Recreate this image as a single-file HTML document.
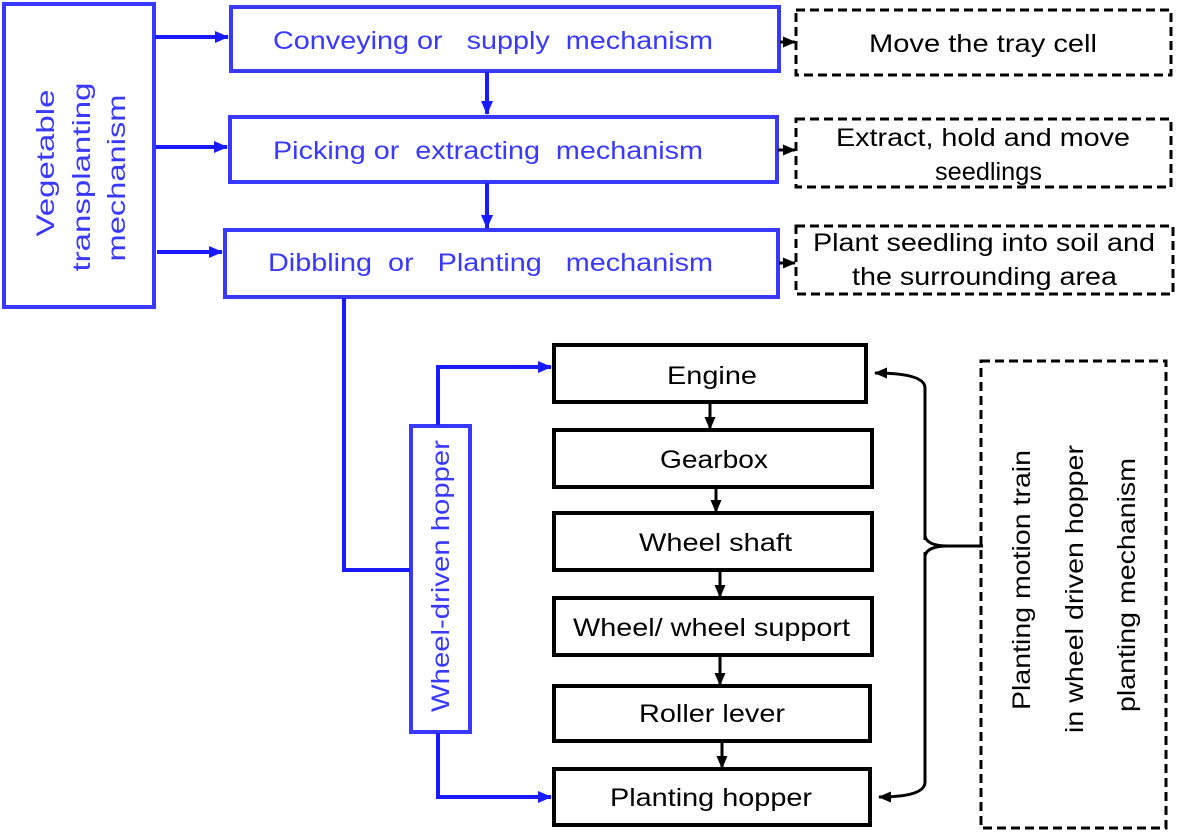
<!DOCTYPE html>
<html><head><meta charset="utf-8"><style>
body{margin:0;background:#fff;}
svg text{font-family:"Liberation Sans",Arial,sans-serif;}
</style></head><body>
<svg width="1177" height="833" viewBox="0 0 1177 833" xmlns="http://www.w3.org/2000/svg">
<defs>
<marker id="ab" markerWidth="14" markerHeight="14" refX="13" refY="7" orient="auto" markerUnits="userSpaceOnUse"><path d="M0,1 L14,7 L0,13 Z" fill="#1a1aff"/></marker>
<marker id="ak" markerWidth="13" markerHeight="13" refX="12" refY="6.5" orient="auto" markerUnits="userSpaceOnUse"><path d="M0,1 L13,6.5 L0,12 Z" fill="#000"/></marker>
</defs>
<g fill="none" stroke="#3838ff" stroke-width="4">
<rect x="4" y="4" width="150" height="303"/>
<rect x="231" y="7" width="548" height="64"/>
<rect x="230" y="117" width="547" height="65"/>
<rect x="225" y="230" width="553" height="67"/>
<rect x="411" y="426" width="59" height="306"/>
</g>
<g stroke="#1a1aff" stroke-width="4" fill="none">
<line x1="155" y1="37" x2="228" y2="37" marker-end="url(#ab)"/>
<line x1="156" y1="147" x2="227" y2="147" marker-end="url(#ab)"/>
<line x1="157" y1="252" x2="222" y2="252" marker-end="url(#ab)"/>
<line x1="487" y1="72" x2="487" y2="114" marker-end="url(#ab)"/>
<line x1="487" y1="183" x2="487" y2="228" marker-end="url(#ab)"/>
<polyline points="344,298 344,570 410,570"/>
<polyline points="438,425 438,367 551,367" marker-end="url(#ab)"/>
<polyline points="438,733 438,797 551,797" marker-end="url(#ab)"/>
</g>
<g fill="#3838ff" font-size="25" lengthAdjust="spacingAndGlyphs">
<text x="273" y="49" textLength="440" lengthAdjust="spacingAndGlyphs" xml:space="preserve">Conveying or   supply  mechanism</text>
<text x="273" y="159" textLength="430" lengthAdjust="spacingAndGlyphs" xml:space="preserve">Picking or  extracting  mechanism</text>
<text x="268" y="271" textLength="445" lengthAdjust="spacingAndGlyphs" xml:space="preserve">Dibbling  or   Planting   mechanism</text>
<g transform="rotate(-90)" text-anchor="middle">
<text x="-163" y="54" textLength="147" lengthAdjust="spacingAndGlyphs">Vegetable</text>
<text x="-177" y="90" textLength="189" lengthAdjust="spacingAndGlyphs">transplanting</text>
<text x="-178" y="125" textLength="167" lengthAdjust="spacingAndGlyphs">mechanism</text>
<text x="-576" y="449" textLength="272" lengthAdjust="spacingAndGlyphs">Wheel-driven hopper</text>
</g>
</g>
<g fill="none" stroke="#000" stroke-width="3" stroke-dasharray="9,5">
<rect x="796" y="10" width="375" height="65"/>
<rect x="796" y="119" width="375" height="68"/>
<rect x="796" y="226" width="377" height="68"/>
<rect x="981" y="361" width="185" height="467"/>
</g>
<g stroke="#000" stroke-width="3" stroke-dasharray="7,4">
<line x1="780" y1="42" x2="784" y2="42"/><line x1="778" y1="150" x2="784" y2="150"/><line x1="779" y1="263" x2="784" y2="263"/>
</g>
<g stroke="#000" stroke-width="3">
<line x1="784" y1="42" x2="795" y2="42" marker-end="url(#ak)"/><line x1="784" y1="150" x2="795" y2="150" marker-end="url(#ak)"/><line x1="784" y1="263" x2="795" y2="263" marker-end="url(#ak)"/>
</g>
<g fill="#000" font-size="25">
<text x="869" y="52" textLength="228" lengthAdjust="spacingAndGlyphs">Move the tray cell</text>
<text x="836" y="146" textLength="294" lengthAdjust="spacingAndGlyphs">Extract, hold and move</text>
<text x="935" y="180" textLength="107" lengthAdjust="spacingAndGlyphs">seedlings</text>
<text x="813" y="251" textLength="342" lengthAdjust="spacingAndGlyphs">Plant seedling into soil and</text>
<text x="852" y="285" textLength="265" lengthAdjust="spacingAndGlyphs">the surrounding area</text>
</g>
<g fill="none" stroke="#000" stroke-width="4">
<rect x="554" y="345" width="312" height="57"/>
<rect x="554" y="430" width="318" height="57"/>
<rect x="554" y="513" width="318" height="57"/>
<rect x="554" y="598" width="318" height="57"/>
<rect x="554" y="686" width="316" height="55"/>
<rect x="554" y="769" width="316" height="56"/>
</g>
<g stroke="#000" stroke-width="3">
<line x1="710" y1="403" x2="710" y2="429" marker-end="url(#ak)"/>
<line x1="716" y1="488" x2="716" y2="512" marker-end="url(#ak)"/>
<line x1="720" y1="571" x2="720" y2="597" marker-end="url(#ak)"/>
<line x1="720" y1="656" x2="720" y2="685" marker-end="url(#ak)"/>
<line x1="722" y1="742" x2="722" y2="768" marker-end="url(#ak)"/>
</g>
<path d="M925,540 L925,388 Q925,373 875,373" fill="none" stroke="#000" stroke-width="3" marker-end="url(#ak)"/>
<path d="M925,552 L925,782 Q925,797 879,797" fill="none" stroke="#000" stroke-width="3" marker-end="url(#ak)"/>
<path d="M925,536 Q927,546 948,546 L983,546 M948,546 Q927,546 925,556" fill="none" stroke="#000" stroke-width="3"/>
<g fill="#000" font-size="25">
<text x="667" y="384" textLength="90" lengthAdjust="spacingAndGlyphs">Engine</text>
<text x="660" y="468" textLength="108" lengthAdjust="spacingAndGlyphs">Gearbox</text>
<text x="639" y="551" textLength="153" lengthAdjust="spacingAndGlyphs">Wheel shaft</text>
<text x="573" y="636" textLength="277" lengthAdjust="spacingAndGlyphs">Wheel/ wheel support</text>
<text x="639" y="722" textLength="146" lengthAdjust="spacingAndGlyphs">Roller lever</text>
<text x="610" y="806" textLength="202" lengthAdjust="spacingAndGlyphs">Planting hopper</text>
<g transform="rotate(-90)">
<text x="-710" y="1030" textLength="260" lengthAdjust="spacingAndGlyphs">Planting motion train</text>
<text x="-733" y="1083" textLength="288" lengthAdjust="spacingAndGlyphs">in wheel driven hopper</text>
<text x="-712" y="1135" textLength="254" lengthAdjust="spacingAndGlyphs">planting mechanism</text>
</g>
</g>
</svg>
</body></html>
